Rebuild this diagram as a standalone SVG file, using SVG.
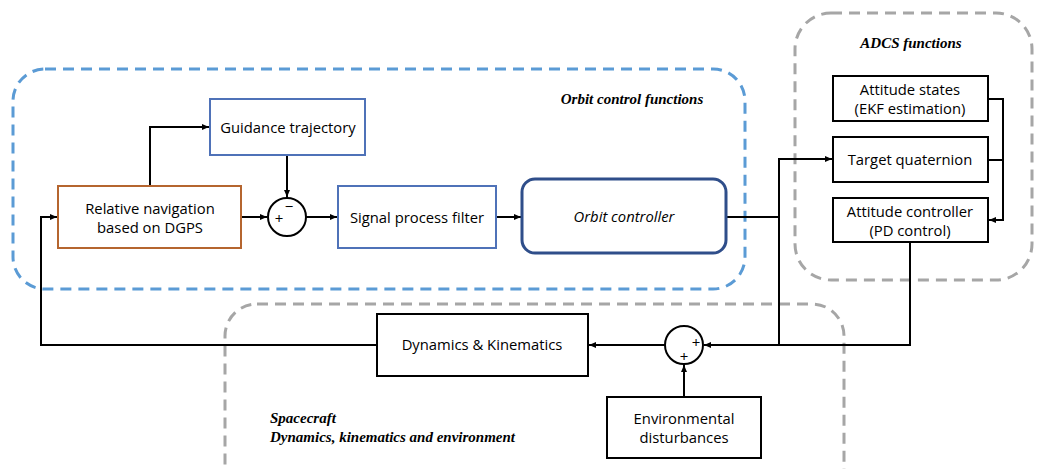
<svg xmlns="http://www.w3.org/2000/svg" width="1038" height="469" viewBox="0 0 1038 469">
<defs>
<style>
.grp-blue{fill:none;stroke:#5b9bd5;stroke-width:3;stroke-dasharray:11 7}
.grp-gray{fill:none;stroke:#a6a6a6;stroke-width:3;stroke-dasharray:11 7}
.box{fill:#fff;stroke:#000;stroke-width:2}
.bbox{fill:#fff;stroke:#4f72b8;stroke-width:2}
.t{font-family:"Open Sans","Noto Sans",sans-serif;font-size:14.8px;fill:#000;text-anchor:middle}
.g{font-family:"Liberation Serif",serif;font-size:15px;font-weight:bold;font-style:italic;fill:#000}
.c{fill:none;stroke:#000;stroke-width:2}
.s{font-family:"Open Sans","Noto Sans",sans-serif;font-size:15px;fill:#000;text-anchor:middle}
</style>
<marker id="ah" markerWidth="8" markerHeight="8" refX="7" refY="4" orient="auto" markerUnits="userSpaceOnUse">
<path d="M0,1 L7,4 L0,7 Z" fill="#000"/>
</marker>
</defs>
<rect width="1038" height="469" fill="#fff"/>

<g id="orbit-group">
<rect class="grp-blue" x="13" y="69" width="732" height="220" rx="32"/>
<text class="g" x="632" y="104" text-anchor="middle">Orbit control functions</text>
</g>
<g id="adcs-group">
<rect class="grp-gray" x="795" y="13" width="237" height="267" rx="36"/>
<text class="g" x="911" y="48" text-anchor="middle">ADCS functions</text>
</g>
<g id="spacecraft-group">
<rect class="grp-gray" x="225" y="304" width="619" height="200" rx="32"/>
<text class="g" x="270" y="423">Spacecraft</text>
<text class="g" x="270" y="442">Dynamics, kinematics and environment</text>
</g>

<g id="connectors">
<polyline class="c" points="150,186 150,127 209,127" marker-end="url(#ah)"/>
<polyline class="c" points="287,155 287,197" marker-end="url(#ah)"/>
<polyline class="c" points="241,217 267,217" marker-end="url(#ah)"/>
<polyline class="c" points="306,217 337,217" marker-end="url(#ah)"/>
<polyline class="c" points="496,217 521,217" marker-end="url(#ah)"/>
<polyline class="c" points="726,217 779,217"/>
<polyline class="c" points="779,345 779,159 832,159" marker-end="url(#ah)"/>
<polyline class="c" points="988,99 1003,99 1003,220 989,220" marker-end="url(#ah)"/>
<polyline class="c" points="988,160 1003,160"/>
<polyline class="c" points="910,242 910,345 704,345" marker-end="url(#ah)"/>
<polyline class="c" points="665,345 589,345" marker-end="url(#ah)"/>
<polyline class="c" points="684,397 684,365" marker-end="url(#ah)"/>
<polyline class="c" points="377,345 41,345 41,217 57,217" marker-end="url(#ah)"/>
</g>

<g id="relnav">
<rect x="58" y="186" width="183" height="62" fill="#fff" stroke="#b5652f" stroke-width="2"/>
<text class="t" x="150" y="214">Relative navigation</text>
<text class="t" x="150" y="233">based on DGPS</text>
</g>
<g id="guidance">
<rect class="bbox" x="210" y="99" width="155" height="56"/>
<text class="t" x="288" y="133">Guidance trajectory</text>
</g>
<g id="sum1">
<circle cx="287" cy="217" r="19" fill="#fff" stroke="#000" stroke-width="2"/>
<text class="s" x="289" y="212">−</text>
<text class="s" x="279" y="224">+</text>
</g>
<g id="filter">
<rect class="bbox" x="338" y="186" width="158" height="62"/>
<text class="t" x="417" y="223">Signal process filter</text>
</g>
<g id="orbit-controller">
<rect x="522" y="179" width="204" height="74" rx="13" fill="#fff" stroke="#2f4e8a" stroke-width="3"/>
<text class="t" x="624" y="222" font-style="italic">Orbit controller</text>
</g>
<g id="att-states">
<rect class="box" x="833" y="76" width="155" height="45"/>
<text class="t" x="910" y="95">Attitude states</text>
<text class="t" x="910" y="114">(EKF estimation)</text>
</g>
<g id="target-q">
<rect class="box" x="833" y="137" width="155" height="45"/>
<text class="t" x="910" y="165">Target quaternion</text>
</g>
<g id="att-controller">
<rect class="box" x="833" y="198" width="155" height="44"/>
<text class="t" x="910" y="217">Attitude controller</text>
<text class="t" x="910" y="236">(PD control)</text>
</g>
<g id="sum2">
<circle cx="684" cy="345" r="19" fill="#fff" stroke="#000" stroke-width="2"/>
<text class="s" x="696" y="348">+</text>
<text class="s" x="684" y="362">+</text>
</g>
<g id="dynamics">
<rect class="box" x="377" y="314" width="211" height="62"/>
<text class="t" x="482" y="350">Dynamics &amp; Kinematics</text>
</g>
<g id="env">
<rect class="box" x="607" y="397" width="154" height="61"/>
<text class="t" x="684" y="424">Environmental</text>
<text class="t" x="684" y="443">disturbances</text>
</g>
</svg>
